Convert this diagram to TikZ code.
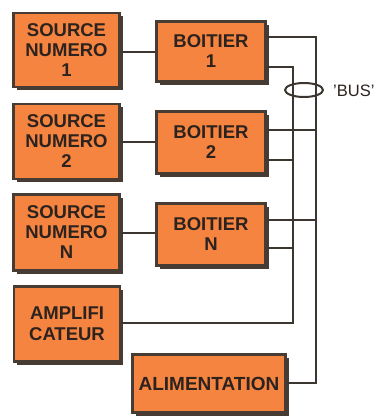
\documentclass[tikz,border=0pt]{standalone}
\usepackage{fontspec}
\setmainfont{Liberation Sans}
\usetikzlibrary{shadows}
\definecolor{boxorange}{RGB}{244,132,64}
\definecolor{boxdark}{RGB}{70,60,52}
\definecolor{linedark}{RGB}{60,54,48}
\definecolor{txtdark}{RGB}{44,34,30}
\begin{document}
\begin{tikzpicture}[x=1pt,y=-1pt,
  blk/.style={draw=boxdark, line width=2.8pt, fill=boxorange, inner sep=0pt,
    align=center, text=txtdark,
    font={\fontsize{18.5}{20}\selectfont\bfseries},
    general shadow={fill=boxdark, shadow xshift=3pt, shadow yshift=-3pt}},
  src/.style={blk, minimum width=106pt},
  boit/.style={blk, minimum width=109pt},
  wire/.style={draw=linedark, line width=2pt}]
\useasboundingbox (0,0) rectangle (377,416);
% boxes
\node[src, minimum height=74pt] (src1) at (66.5,50) {SOURCE\\NUMERO\\1};
\node[src, minimum height=75pt] (src2) at (66.5,141.5) {SOURCE\\NUMERO\\2};
\node[src, minimum height=76pt] (srcN) at (66.5,232.5) {SOURCE\\NUMERO\\N};
\node[src, minimum height=75pt, font={\fontsize{18.5}{21}\selectfont\bfseries}] (amp) at (67,324) {AMPLIFI\\CATEUR};
\node[boit, minimum height=60pt] (boit1) at (211,51.5) {BOITIER\\1};
\node[boit, minimum height=62pt] (boit2) at (211,142.5) {BOITIER\\2};
\node[boit, minimum height=62pt] (boitN) at (211,234.5) {BOITIER\\N};
\node[blk, minimum width=153pt, minimum height=58pt, font={\fontsize{19}{20}\selectfont\bfseries}] (alim) at (209,383.5) {ALIMENTATION};
% bus coordinates
\coordinate (o1) at (316,37);
\coordinate (o2) at (316,130);
\coordinate (o3) at (316,220);
\coordinate (oa) at (316,383);
\coordinate (i1) at (293,67);
\coordinate (i2) at (293,160);
\coordinate (i3) at (293,248);
\coordinate (ia) at (293,323);
% source to boitier
\draw[wire] (src1.east |- 0,52) -- (boit1.west |- 0,52);
\draw[wire] (src2.east |- 0,142) -- (boit2.west |- 0,142);
\draw[wire] (srcN.east |- 0,233) -- (boitN.west |- 0,233);
% bus
\draw[wire] (boit1.east |- o1) -- (o1) -- (oa) -- (alim.east |- oa);
\draw[wire] (boit1.east |- i1) -- (i1) -- (ia) -- (amp.east |- ia);
\draw[wire] (boit2.east |- o2) -- (o2);
\draw[wire] (boit2.east |- i2) -- (i2);
\draw[wire] (boitN.east |- o3) -- (o3);
\draw[wire] (boitN.east |- i3) -- (i3);
% bus marker
\draw[draw=linedark, line width=2pt] (304,90) ellipse [x radius=19, y radius=7];
\node[anchor=west, inner sep=0pt, text=txtdark, font={\fontsize{16.5}{17}\selectfont}] (bus) at (333,91) {'BUS'};
\end{tikzpicture}
\end{document}
